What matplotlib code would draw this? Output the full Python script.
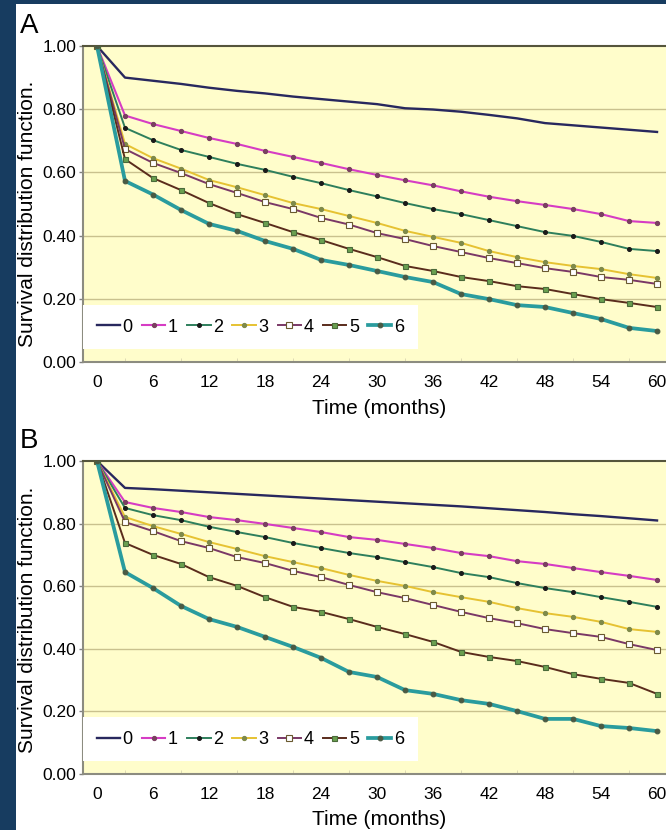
import matplotlib
matplotlib.use('Agg')
import matplotlib.pyplot as plt
from matplotlib.patches import Rectangle

plt.rcParams['font.family'] = ['Liberation Sans', 'DejaVu Sans']

# time points (months)
months = [0, 3, 6, 9, 12, 15, 18, 21, 24, 27, 30, 33, 36, 39, 42, 45, 48, 51, 54, 57, 60]
x_ticks = [0, 6, 12, 18, 24, 30, 36, 42, 48, 54, 60]
y_ticks = [0.0, 0.2, 0.4, 0.6, 0.8, 1.0]
groups = ['0', '1', '2', '3', '4', '5', '6']

# panel A survival values
a0 = [1.0, 0.90, 0.89, 0.88, 0.868, 0.858, 0.85, 0.84, 0.832, 0.824, 0.816, 0.803, 0.799, 0.792, 0.782, 0.771, 0.756, 0.749, 0.742, 0.735, 0.728]
a1 = [1.0, 0.78, 0.753, 0.731, 0.709, 0.69, 0.668, 0.649, 0.63, 0.61, 0.592, 0.575, 0.559, 0.54, 0.523, 0.509, 0.497, 0.484, 0.468, 0.446, 0.44]
a2 = [1.0, 0.741, 0.702, 0.671, 0.649, 0.627, 0.608, 0.586, 0.566, 0.544, 0.524, 0.503, 0.484, 0.468, 0.449, 0.43, 0.411, 0.399, 0.38, 0.358, 0.351]
a3 = [1.0, 0.69, 0.645, 0.612, 0.576, 0.553, 0.528, 0.503, 0.484, 0.462, 0.44, 0.415, 0.396, 0.377, 0.351, 0.332, 0.316, 0.304, 0.294, 0.278, 0.266]
a4 = [1.0, 0.674, 0.63, 0.598, 0.563, 0.535, 0.506, 0.484, 0.456, 0.435, 0.408, 0.389, 0.367, 0.348, 0.329, 0.313, 0.297, 0.285, 0.269, 0.26, 0.247]
a5 = [1.0, 0.642, 0.582, 0.544, 0.503, 0.468, 0.44, 0.411, 0.386, 0.358, 0.332, 0.304, 0.288, 0.269, 0.256, 0.24, 0.231, 0.215, 0.199, 0.187, 0.174]
a6 = [1.0, 0.573, 0.53, 0.481, 0.437, 0.415, 0.383, 0.358, 0.323, 0.307, 0.288, 0.269, 0.253, 0.215, 0.199, 0.18, 0.174, 0.155, 0.136, 0.108, 0.098]

# panel B survival values
b0 = [1.0, 0.914, 0.91, 0.905, 0.90, 0.895, 0.89, 0.885, 0.88, 0.875, 0.87, 0.865, 0.86, 0.855, 0.849, 0.843, 0.837, 0.83, 0.824, 0.817, 0.81]
b1 = [1.0, 0.869, 0.85, 0.837, 0.821, 0.811, 0.799, 0.786, 0.773, 0.757, 0.748, 0.735, 0.722, 0.706, 0.696, 0.68, 0.671, 0.658, 0.645, 0.633, 0.62]
b2 = [1.0, 0.85, 0.827, 0.811, 0.79, 0.773, 0.757, 0.738, 0.722, 0.706, 0.693, 0.677, 0.661, 0.642, 0.629, 0.61, 0.594, 0.581, 0.565, 0.55, 0.534]
b3 = [1.0, 0.821, 0.792, 0.767, 0.741, 0.719, 0.696, 0.677, 0.658, 0.636, 0.617, 0.601, 0.581, 0.565, 0.55, 0.53, 0.514, 0.502, 0.486, 0.463, 0.454]
b4 = [1.0, 0.805, 0.776, 0.744, 0.722, 0.693, 0.674, 0.649, 0.629, 0.604, 0.581, 0.562, 0.54, 0.518, 0.498, 0.482, 0.463, 0.45, 0.438, 0.415, 0.396]
b5 = [1.0, 0.738, 0.70, 0.671, 0.629, 0.601, 0.565, 0.534, 0.518, 0.495, 0.47, 0.447, 0.422, 0.39, 0.374, 0.361, 0.342, 0.319, 0.304, 0.291, 0.256]
b6 = [1.0, 0.645, 0.594, 0.537, 0.495, 0.47, 0.438, 0.406, 0.371, 0.326, 0.31, 0.268, 0.256, 0.236, 0.224, 0.201, 0.176, 0.176, 0.153, 0.147, 0.137]

panel_a = [a0, a1, a2, a3, a4, a5, a6]
panel_b = [b0, b1, b2, b3, b4, b5, b6]

# line styles per group
styles = [
    dict(color='#28285e', lw=1.7, marker=None),
    dict(color='#d63cc4', lw=1.5, marker='o', ms=3.0, mfc='#7a4060', mec='#7a4060'),
    dict(color='#2e7f5c', lw=1.4, marker='o', ms=2.8, mfc='#1a1a1a', mec='#1a1a1a'),
    dict(color='#e6c232', lw=1.4, marker='o', ms=3.0, mfc='#7f8a4a', mec='#7f8a4a'),
    dict(color='#7a3866', lw=1.4, marker='s', ms=4.0, mfc='white', mec='#6a5a30'),
    dict(color='#5a2c1c', lw=1.4, marker='s', ms=3.6, mfc='#6aa050', mec='#4a6a3a'),
    dict(color='#2a9c9e', lw=2.7, marker='o', ms=3.4, mfc='#4a5a44', mec='#4a5a44'),
]

fig = plt.figure(figsize=(6.66, 8.30), dpi=100)
fig.patch.set_facecolor('#173c60')
fig.patches.append(Rectangle((16 / 666, 0), 1, 1 - 4 / 830, transform=fig.transFigure,
                             facecolor='white', edgecolor='none', zorder=-1))


def draw_panel(ax, series):
    ax.set_facecolor('#fffdcb')
    for y in [0.2, 0.4, 0.6, 0.8]:
        ax.axhline(y, color='#c9c18e', lw=1.0, zorder=1)
    for name, vals, st in zip(groups, series, styles):
        ax.plot(months, vals, color=st['color'], lw=st['lw'], marker=st['marker'],
                markersize=st.get('ms', 0), markerfacecolor=st.get('mfc'),
                markeredgecolor=st.get('mec'), markeredgewidth=0.8, label=name, zorder=3)
    ax.set_xlim(-1.5, 60.96)
    ax.set_ylim(0, 1.0)
    ax.set_xticks(x_ticks)
    ax.set_yticks(y_ticks)
    ax.set_yticklabels(['%.2f' % v for v in y_ticks])
    ax.set_xticks(months, minor=True)
    ax.tick_params(axis='y', direction='out', length=3, width=1, color='#808080', labelsize=12.5, pad=2)
    ax.tick_params(axis='x', which='major', length=0, labelsize=12.5, pad=9)
    ax.tick_params(axis='x', which='minor', direction='in', length=3, color='#d8d4b0')
    ax.spines['top'].set_color('#55553c')
    ax.spines['top'].set_linewidth(1.5)
    ax.spines['left'].set_color('#8c8c80')
    ax.spines['left'].set_linewidth(1.5)
    ax.spines['bottom'].set_color('#8c8c80')
    ax.spines['bottom'].set_linewidth(1.5)
    ax.spines['right'].set_visible(False)
    leg = ax.legend(loc='lower left', bbox_to_anchor=(0.0, 0.04), ncol=7, fontsize=13,
                    frameon=True, fancybox=False, borderaxespad=0, borderpad=0.75,
                    handlelength=1.3, handletextpad=0.15, columnspacing=0.5)
    leg.get_frame().set_facecolor('white')
    leg.get_frame().set_edgecolor('none')
    leg.get_frame().set_alpha(1)


ax_a = fig.add_axes([83 / 666, 1 - 362 / 830, 583 / 666, 316 / 830])
draw_panel(ax_a, panel_a)
ax_b = fig.add_axes([83 / 666, 1 - 774 / 830, 583 / 666, 313 / 830])
draw_panel(ax_b, panel_b)

fig.text(20 / 666, 1 - 33 / 830, 'A', fontsize=20, ha='left', va='baseline')
fig.text(20 / 666, 1 - 448 / 830, 'B', fontsize=20, ha='left', va='baseline')
fig.text(28 / 666, 1 - 214 / 830, 'Survival distribution function.', rotation=90,
         fontsize=15, ha='center', va='center')
fig.text(28 / 666, 1 - 620 / 830, 'Survival distribution function.', rotation=90,
         fontsize=15, ha='center', va='center')
fig.text(379 / 666, 1 - 408 / 830, 'Time (months)', fontsize=15, ha='center', va='center')
fig.text(379 / 666, 1 - 819 / 830, 'Time (months)', fontsize=15, ha='center', va='center')

fig.savefig('out.png', dpi=100)
